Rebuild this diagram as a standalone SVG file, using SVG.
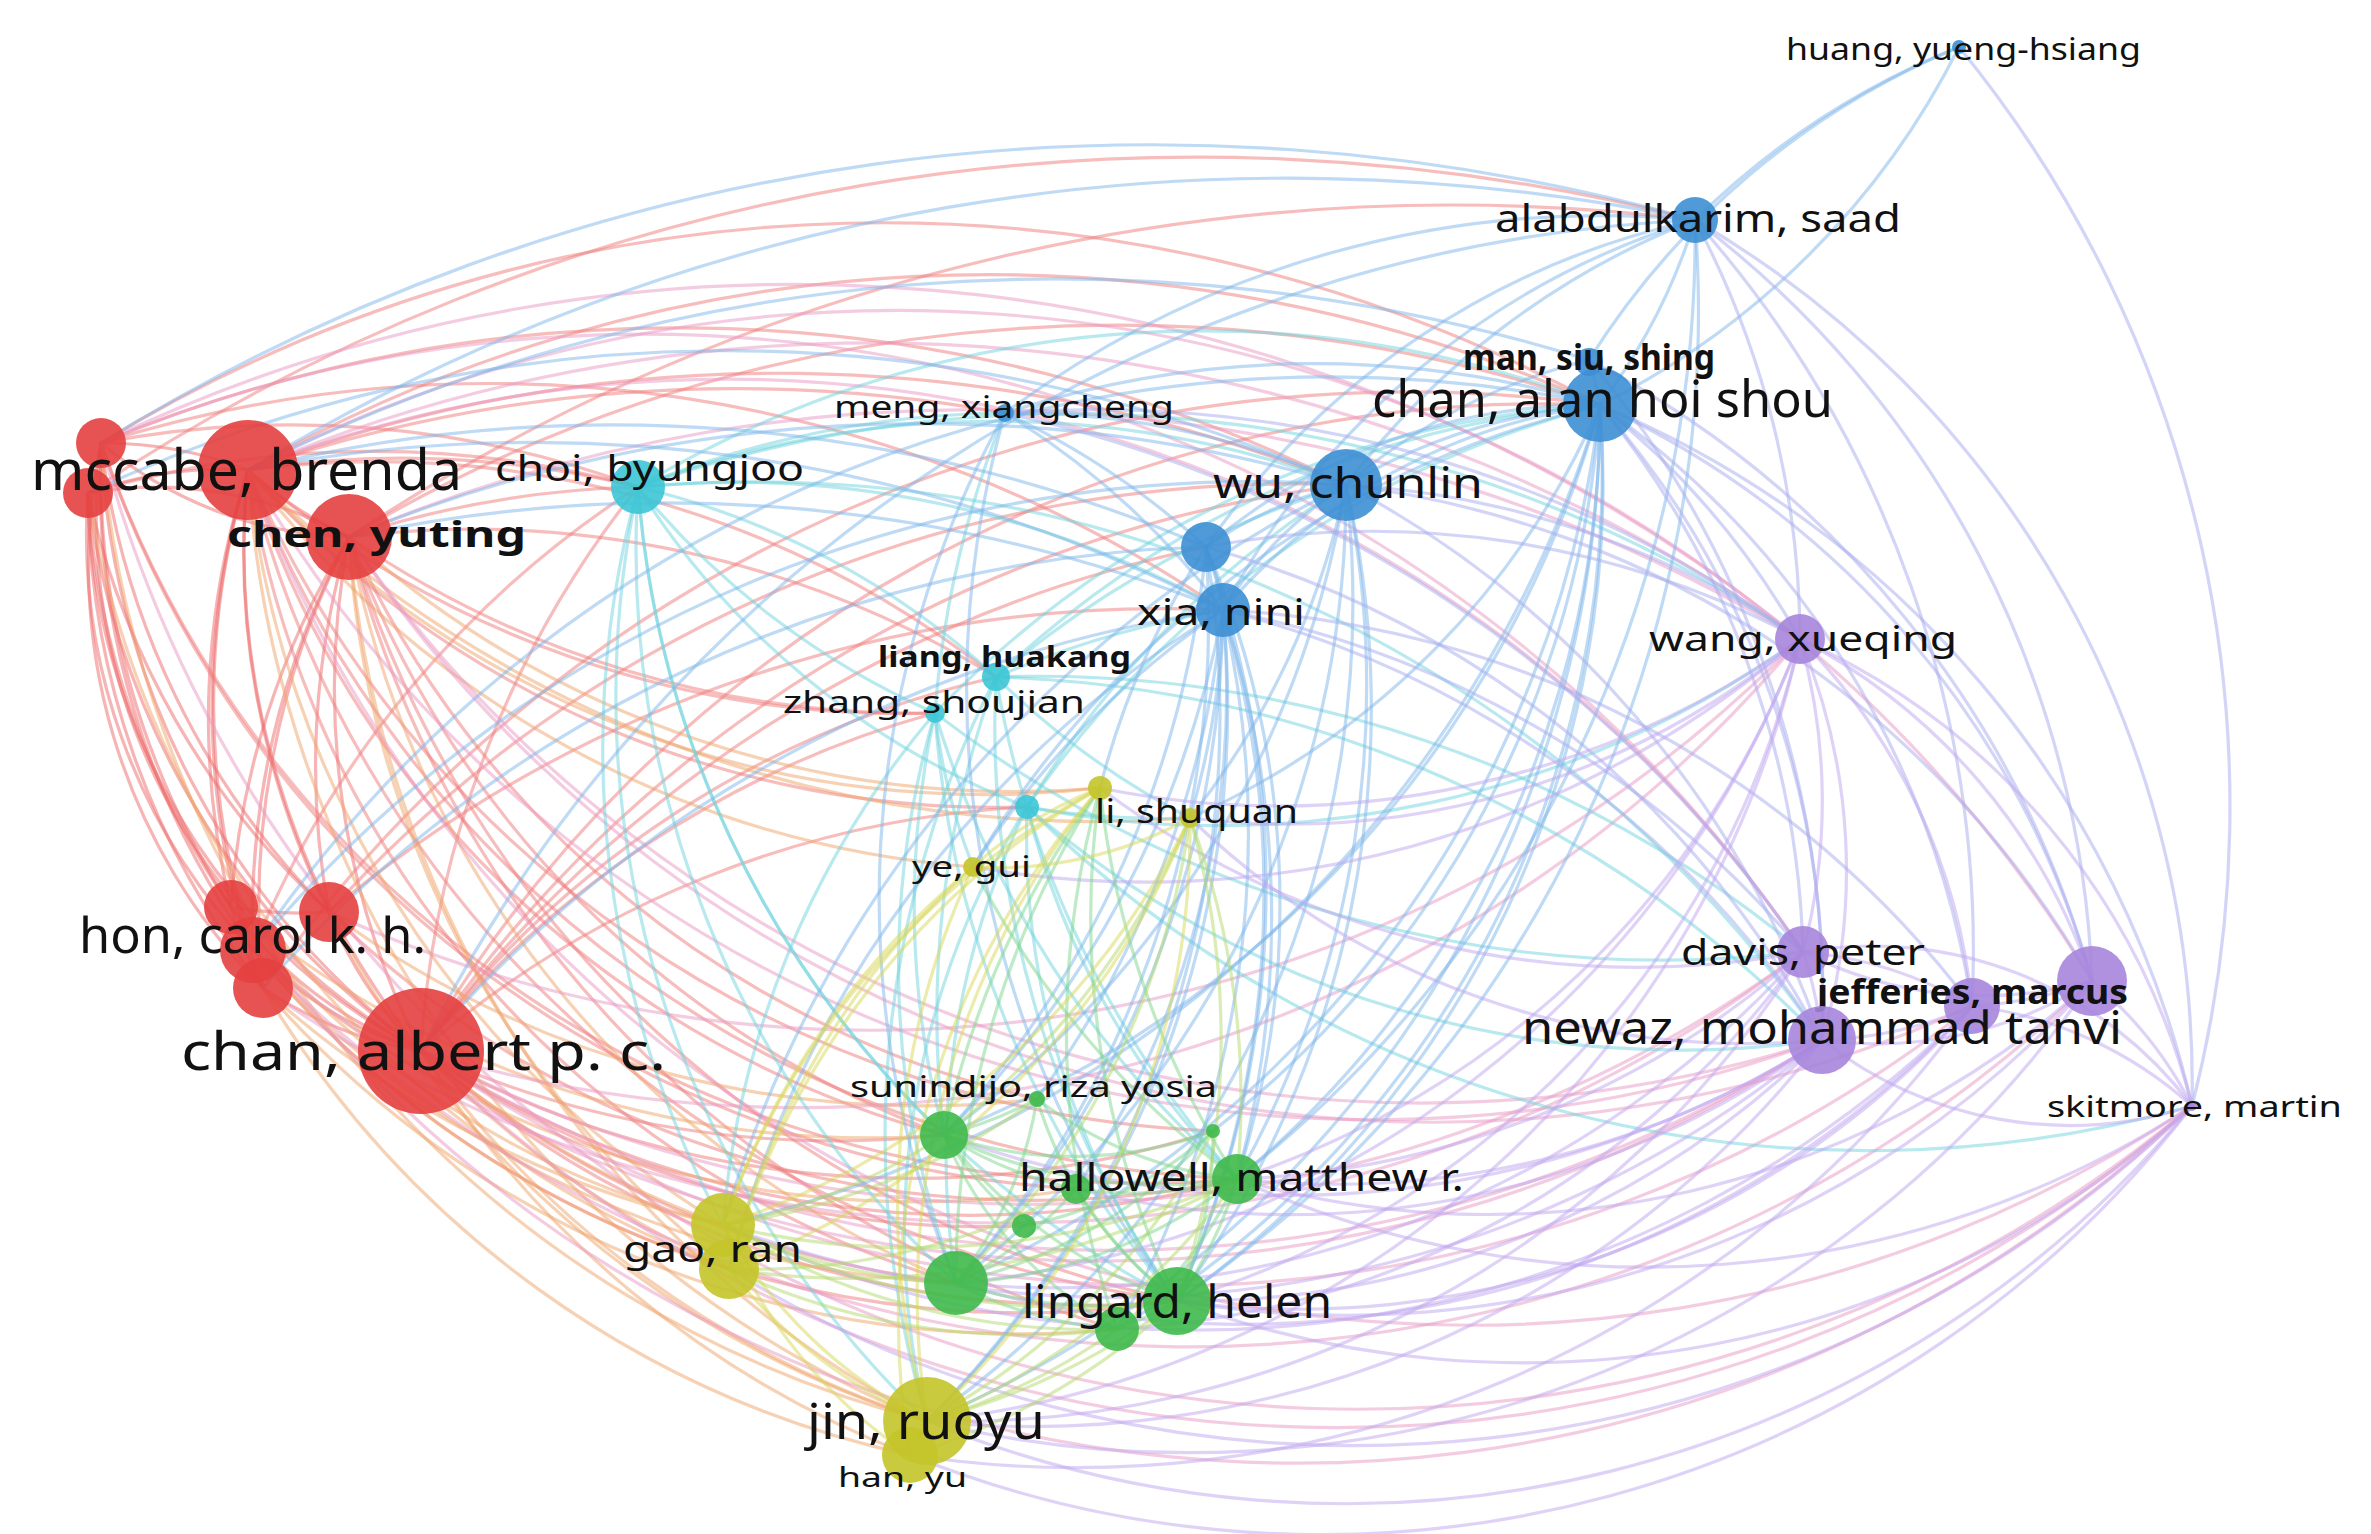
<svg xmlns="http://www.w3.org/2000/svg" width="2371" height="1534" viewBox="0 0 2371 1534">
<style>
.e path{fill:none;stroke-width:3.2;stroke-opacity:0.5;stroke-linecap:round}
.er{stroke:#f07b7b}
.ers{stroke:#ee6a6a;stroke-width:4.5!important;stroke-opacity:0.6!important}
.eo{stroke:#f0a36a}
.eb{stroke:#7db6ea}
.ebp{stroke:#a7acee}
.ec{stroke:#6fd3de}
.ep{stroke:#c0a5f0}
.em{stroke:#e99ac4}
.eg{stroke:#7dd58e}
.ey{stroke:#d8d858}
.egy{stroke:#b3d96c}
circle{fill-opacity:0.9}
.nr{fill:#e4403f}
.nc{fill:#3cc5d5}
.nb{fill:#3d8fd4}
.np{fill:#a685dc}
.ny{fill:#c4c42a}
.ng{fill:#3fb94b}
text{font-family:"Noto Sans","Liberation Sans",sans-serif;fill:#111}
.bd{font-weight:bold}
</style>
<rect width="2371" height="1534" fill="#ffffff"/>
<g id="connectors" class="e">
<g class="ers">
<path d="M231 907A800 800 0 0 1 101 443"/><path d="M231 907A800 800 0 0 1 88 493"/><path d="M231 907A800 800 0 0 1 248 470"/><path d="M231 907A800 800 0 0 1 349 537"/>
<path d="M329 912A800 800 0 0 1 101 443"/><path d="M329 912A800 800 0 0 1 88 493"/><path d="M329 912A800 800 0 0 1 248 470"/><path d="M329 912A800 800 0 0 1 349 537"/>
<path d="M253 950A800 800 0 0 1 101 443"/><path d="M253 950A800 800 0 0 1 248 470"/><path d="M253 950A800 800 0 0 1 349 537"/>
<path d="M263 988A800 800 0 0 1 88 493"/><path d="M263 988A800 800 0 0 1 248 470"/><path d="M263 988A800 800 0 0 1 349 537"/>
<path d="M421 1051A800 800 0 0 1 101 443"/><path d="M421 1051A800 800 0 0 1 88 493"/><path d="M421 1051A800 800 0 0 1 248 470"/><path d="M421 1051A800 800 0 0 1 349 537"/>
<path d="M421 1051A600 600 0 0 1 101 443"/><path d="M263 988A600 600 0 0 1 101 443"/><path d="M421 1051A650 650 0 0 1 88 493"/><path d="M253 950A600 600 0 0 1 88 493"/>
<path d="M88 493A400 400 0 0 1 349 537"/><path d="M88 493A400 400 0 0 1 248 470"/><path d="M349 537A400 400 0 0 1 101 443"/><path d="M349 537A400 400 0 0 1 248 470"/><path d="M101 443A400 400 0 0 1 248 470"/>
<path d="M421 1051A400 400 0 0 1 263 988"/><path d="M421 1051A400 400 0 0 1 253 950"/><path d="M421 1051A400 400 0 0 1 329 912"/><path d="M421 1051A400 400 0 0 1 231 907"/><path d="M263 988A400 400 0 0 1 231 907"/><path d="M329 912A400 400 0 0 1 231 907"/>
</g>
<g class="er">
<path d="M248 470A1000 1000 0 0 1 638 487"/><path d="M349 537A1000 1000 0 0 1 638 487"/><path d="M101 443A1000 1000 0 0 1 638 487"/><path d="M421 1051A1000 1000 0 0 1 638 487"/><path d="M253 950A1000 1000 0 0 1 638 487"/><path d="M88 493A1000 1000 0 0 1 638 487"/>
<path d="M248 470A1000 1000 0 0 1 996 677"/><path d="M349 537A1000 1000 0 0 1 996 677"/><path d="M935 713A1000 1000 0 0 1 248 470"/><path d="M935 713A1000 1000 0 0 1 349 537"/><path d="M421 1051A1000 1000 0 0 1 935 713"/><path d="M421 1051A1000 1000 0 0 1 1027 807"/><path d="M1027 807A1000 1000 0 0 1 248 470"/><path d="M421 1051A1000 1000 0 0 1 996 677"/>
<path d="M248 470A1500 1500 0 0 1 1005 413"/><path d="M248 470A1500 1500 0 0 1 1346 485"/><path d="M248 470A1500 1500 0 0 1 1600 405"/><path d="M349 537A1500 1500 0 0 1 1600 405"/><path d="M101 443A1500 1500 0 0 1 1600 405"/><path d="M101 443A1500 1500 0 0 1 1346 485"/><path d="M88 493A2000 2000 0 0 1 1695 220"/><path d="M349 537A2000 2000 0 0 1 1695 220"/><path d="M101 443A1300 1300 0 0 1 1223 610"/>
<path d="M421 1051A1300 1300 0 0 1 1600 405"/><path d="M421 1051A1300 1300 0 0 1 1346 485"/><path d="M329 912A1300 1300 0 0 1 1346 485"/><path d="M421 1051A1300 1300 0 0 1 1206 547"/><path d="M329 912A1300 1300 0 0 1 1223 610"/><path d="M263 988A1400 1400 0 0 1 1600 405"/>
<path d="M956 1283A1000 1000 0 0 1 421 1051"/><path d="M1177 1301A1000 1000 0 0 1 421 1051"/><path d="M944 1135A1000 1000 0 0 1 421 1051"/><path d="M1237 1179A1000 1000 0 0 1 421 1051"/><path d="M1024 1226A1000 1000 0 0 1 421 1051"/><path d="M1213 1131A1000 1000 0 0 1 421 1051"/><path d="M1177 1301A1000 1000 0 0 1 253 950"/><path d="M1237 1179A1000 1000 0 0 1 329 912"/>
<path d="M956 1283A1000 1000 0 0 1 248 470"/><path d="M944 1135A1000 1000 0 0 1 349 537"/><path d="M1177 1301A1100 1100 0 0 1 248 470"/><path d="M1237 1179A1100 1100 0 0 1 101 443"/><path d="M1237 1179A1100 1100 0 0 1 248 470"/><path d="M944 1135A1000 1000 0 0 1 248 470"/><path d="M1117 1329A1100 1100 0 0 1 349 537"/><path d="M1076 1189A1100 1100 0 0 1 101 443"/><path d="M1037 1099A1000 1000 0 0 1 349 537"/><path d="M1177 1301A1100 1100 0 0 1 349 537"/><path d="M1213 1131A1100 1100 0 0 1 248 470"/>
</g>
<g class="eo">
<path d="M1117 1329A1000 1000 0 0 1 263 988"/><path d="M1076 1189A1000 1000 0 0 1 253 950"/><path d="M1037 1099A1000 1000 0 0 1 329 912"/><path d="M956 1283A1000 1000 0 0 1 253 950"/><path d="M944 1135A1000 1000 0 0 1 231 907"/><path d="M956 1283A1000 1000 0 0 1 349 537"/>
<path d="M927 1421A1000 1000 0 0 1 421 1051"/><path d="M723 1225A1000 1000 0 0 1 421 1051"/><path d="M729 1269A1000 1000 0 0 1 421 1051"/><path d="M723 1225A1000 1000 0 0 1 263 988"/><path d="M729 1269A1000 1000 0 0 1 253 950"/><path d="M927 1421A1000 1000 0 0 1 329 912"/><path d="M910 1455A1000 1000 0 0 1 421 1051"/><path d="M910 1455A1000 1000 0 0 1 263 988"/><path d="M723 1225A900 900 0 0 1 231 907"/>
<path d="M723 1225A1000 1000 0 0 1 248 470"/><path d="M927 1421A1100 1100 0 0 1 349 537"/><path d="M973 867A1000 1000 0 0 1 248 470"/><path d="M1100 788A1000 1000 0 0 1 349 537"/><path d="M927 1421A1100 1100 0 0 1 101 443"/><path d="M729 1269A1000 1000 0 0 1 88 493"/><path d="M1190 818A1200 1200 0 0 1 248 470"/><path d="M1100 788A1000 1000 0 0 1 248 470"/><path d="M729 1269A1000 1000 0 0 1 349 537"/><path d="M927 1421A1100 1100 0 0 1 248 470"/>
</g>
<g class="em">
<path d="M248 470A1600 1600 0 0 1 1800 639"/><path d="M349 537A1600 1600 0 0 1 1800 639"/><path d="M101 443A1600 1600 0 0 1 1800 639"/><path d="M1822 1040A1300 1300 0 0 1 248 470"/><path d="M248 470A1300 1300 0 0 1 1803 952"/><path d="M1972 1006A1300 1300 0 0 1 349 537"/><path d="M2192 1106A1300 1300 0 0 1 101 443"/><path d="M2192 1106A1300 1300 0 0 1 248 470"/><path d="M248 470A1400 1400 0 0 1 2092 981"/><path d="M101 443A1400 1400 0 0 1 1803 952"/><path d="M1822 1040A1300 1300 0 0 1 349 537"/>
<path d="M1822 1040A1300 1300 0 0 1 421 1051"/><path d="M1803 952A1300 1300 0 0 1 421 1051"/><path d="M2192 1106A1300 1300 0 0 1 421 1051"/><path d="M1972 1006A1300 1300 0 0 1 421 1051"/><path d="M2092 981A1300 1300 0 0 1 253 950"/><path d="M1822 1040A1300 1300 0 0 1 253 950"/><path d="M2192 1106A1300 1300 0 0 1 231 907"/><path d="M1803 952A1300 1300 0 0 1 263 988"/><path d="M1800 639A1300 1300 0 0 1 421 1051"/><path d="M1800 639A1300 1300 0 0 1 329 912"/>
</g>
<g class="ec">
<path d="M638 487A1000 1000 0 0 1 1005 413"/><path d="M638 487A1000 1000 0 0 1 1346 485"/><path d="M638 487A1100 1100 0 0 1 1600 405"/><path d="M638 487A1000 1000 0 0 1 1223 610"/><path d="M638 487A800 800 0 0 1 996 677"/><path d="M935 713A800 800 0 0 1 638 487"/><path d="M1027 807A800 800 0 0 1 638 487"/><path d="M927 1421A1000 1000 0 0 1 638 487"/><path d="M956 1283A1000 1000 0 0 1 638 487"/><path d="M1177 1301A1000 1000 0 0 1 638 487"/><path d="M944 1135A1000 1000 0 0 1 638 487"/><path d="M723 1225A1000 1000 0 0 1 638 487"/>
<path d="M996 677A1000 1000 0 0 1 1600 405"/><path d="M996 677A1000 1000 0 0 1 1346 485"/><path d="M996 677A1000 1000 0 0 1 1223 610"/><path d="M1177 1301A1000 1000 0 0 1 996 677"/><path d="M927 1421A1000 1000 0 0 1 996 677"/><path d="M996 677A1200 1200 0 0 1 1822 1040"/><path d="M944 1135A1000 1000 0 0 1 996 677"/><path d="M1237 1179A1000 1000 0 0 1 996 677"/><path d="M1190 818A800 800 0 0 1 996 677"/>
<path d="M935 713A1000 1000 0 0 1 1600 405"/><path d="M935 713A1000 1000 0 0 1 1005 413"/><path d="M1237 1179A1000 1000 0 0 1 935 713"/><path d="M1177 1301A1000 1000 0 0 1 935 713"/><path d="M944 1135A900 900 0 0 1 935 713"/><path d="M956 1283A900 900 0 0 1 935 713"/><path d="M723 1225A900 900 0 0 1 935 713"/><path d="M973 867A600 600 0 0 1 935 713"/>
<path d="M1027 807A1000 1000 0 0 1 1600 405"/><path d="M1027 807A1000 1000 0 0 1 1346 485"/><path d="M956 1283A800 800 0 0 1 1027 807"/><path d="M1177 1301A800 800 0 0 1 1027 807"/><path d="M927 1421A800 800 0 0 1 1027 807"/><path d="M1822 1040A1000 1000 0 0 1 1027 807"/><path d="M1190 818A800 800 0 0 1 1027 807"/><path d="M1237 1179A800 800 0 0 1 1027 807"/><path d="M1800 639A1000 1000 0 0 1 1027 807"/><path d="M2192 1106A1200 1200 0 0 1 1027 807"/>
<path d="M996 677A1200 1200 0 0 1 1803 952"/><path d="M638 487A1300 1300 0 0 1 1822 1040"/><path d="M638 487A1300 1300 0 0 1 1800 639"/><path d="M1803 952A1200 1200 0 0 1 935 713"/>
</g>
<g class="eb">
<path d="M248 470A1500 1500 0 0 1 1206 547"/><path d="M248 470A1500 1500 0 0 1 1223 610"/><path d="M248 470A2000 2000 0 0 1 1695 220"/><path d="M349 537A1500 1500 0 0 1 1346 485"/><path d="M349 537A1500 1500 0 0 1 1223 610"/><path d="M101 443A2000 2000 0 0 1 1695 220"/><path d="M248 470A1800 1800 0 0 1 1589 360"/><path d="M88 493A1500 1500 0 0 1 1346 485"/>
<path d="M421 1051A1300 1300 0 0 1 1223 610"/><path d="M253 950A1300 1300 0 0 1 1600 405"/><path d="M263 988A1300 1300 0 0 1 1206 547"/><path d="M421 1051A1500 1500 0 0 1 1695 220"/><path d="M253 950A1300 1300 0 0 1 1346 485"/>
<path d="M1695 220A600 600 0 0 1 1600 405"/><path d="M1959 47A800 800 0 0 1 1600 405"/><path d="M1695 220A800 800 0 0 1 1959 47"/><path d="M1589 360A800 800 0 0 1 1959 47"/>
<path d="M1346 485A600 600 0 0 1 1600 405"/><path d="M1206 547A600 600 0 0 1 1600 405"/><path d="M1223 610A600 600 0 0 1 1600 405"/><path d="M1005 413A1000 1000 0 0 1 1600 405"/><path d="M1005 413A800 800 0 0 1 1346 485"/><path d="M1206 547A400 400 0 0 1 1346 485"/><path d="M1223 610A400 400 0 0 1 1346 485"/><path d="M1206 547A400 400 0 0 1 1223 610"/>
<path d="M1005 413A1000 1000 0 0 1 1695 220"/><path d="M1346 485A800 800 0 0 1 1695 220"/><path d="M1223 610A800 800 0 0 1 1695 220"/><path d="M1206 547A800 800 0 0 1 1695 220"/><path d="M1589 360A400 400 0 0 1 1600 405"/><path d="M1346 485A600 600 0 0 1 1589 360"/><path d="M1005 413A800 800 0 0 1 1206 547"/><path d="M1005 413A800 800 0 0 1 1223 610"/>
<path d="M1600 405A1000 1000 0 0 1 1237 1179"/><path d="M1600 405A1000 1000 0 0 1 1177 1301"/><path d="M1600 405A1100 1100 0 0 1 956 1283"/><path d="M1600 405A1100 1100 0 0 1 944 1135"/><path d="M1223 610A1000 1000 0 0 1 1237 1179"/><path d="M1223 610A1000 1000 0 0 1 1177 1301"/><path d="M1223 610A1000 1000 0 0 1 956 1283"/><path d="M1206 547A1000 1000 0 0 1 1177 1301"/><path d="M1346 485A1000 1000 0 0 1 1237 1179"/><path d="M1346 485A1000 1000 0 0 1 956 1283"/><path d="M1223 610A1000 1000 0 0 1 1037 1099"/><path d="M1206 547A1000 1000 0 0 1 944 1135"/><path d="M1177 1301A1000 1000 0 0 1 1005 413"/><path d="M956 1283A1000 1000 0 0 1 1005 413"/><path d="M1695 220A1200 1200 0 0 1 1177 1301"/>
<path d="M1346 485A1000 1000 0 0 1 1177 1301"/><path d="M1600 405A1000 1000 0 0 1 1117 1329"/><path d="M1223 610A1000 1000 0 0 1 1117 1329"/><path d="M1206 547A1000 1000 0 0 1 956 1283"/><path d="M1223 610A1000 1000 0 0 1 944 1135"/><path d="M1346 485A1000 1000 0 0 1 944 1135"/><path d="M1695 220A1200 1200 0 0 1 1237 1179"/><path d="M1600 405A1000 1000 0 0 1 1213 1131"/><path d="M1223 610A900 900 0 0 1 1076 1189"/><path d="M1206 547A900 900 0 0 1 1237 1179"/>
<path d="M1600 405A1100 1100 0 0 1 927 1421"/><path d="M1223 610A1000 1000 0 0 1 927 1421"/><path d="M723 1225A1200 1200 0 0 1 1346 485"/><path d="M1223 610A800 800 0 0 1 1190 818"/><path d="M1600 405A800 800 0 0 1 1190 818"/><path d="M973 867A1000 1000 0 0 1 1600 405"/><path d="M1100 788A800 800 0 0 1 1206 547"/>
<path d="M1346 485A1000 1000 0 0 1 927 1421"/><path d="M1206 547A1000 1000 0 0 1 927 1421"/><path d="M1600 405A1200 1200 0 0 1 723 1225"/><path d="M729 1269A1100 1100 0 0 1 1223 610"/><path d="M973 867A900 900 0 0 1 1223 610"/><path d="M1346 485A800 800 0 0 1 1190 818"/>
</g>
<g class="ebp">
<path d="M1600 405A800 800 0 0 1 1800 639"/><path d="M1600 405A900 900 0 0 1 1803 952"/><path d="M1600 405A900 900 0 0 1 1822 1040"/><path d="M1600 405A900 900 0 0 1 1972 1006"/><path d="M1600 405A900 900 0 0 1 2092 981"/><path d="M1600 405A1000 1000 0 0 1 2192 1106"/><path d="M1695 220A1000 1000 0 0 1 2192 1106"/><path d="M1695 220A1000 1000 0 0 1 2092 981"/><path d="M1959 47A1200 1200 0 0 1 2192 1106"/><path d="M1695 220A900 900 0 0 1 1800 639"/><path d="M1346 485A900 900 0 0 1 1800 639"/><path d="M1346 485A1000 1000 0 0 1 1822 1040"/><path d="M1223 610A1000 1000 0 0 1 1822 1040"/><path d="M1223 610A1000 1000 0 0 1 1803 952"/><path d="M1206 547A1000 1000 0 0 1 1822 1040"/><path d="M1005 413A1300 1300 0 0 1 1803 952"/><path d="M1589 360A1000 1000 0 0 1 2092 981"/><path d="M1695 220A1100 1100 0 0 1 1972 1006"/>
<path d="M1223 610A1000 1000 0 0 1 1972 1006"/><path d="M1346 485A1000 1000 0 0 1 2092 981"/><path d="M1206 547A900 900 0 0 1 1800 639"/><path d="M1589 360A1000 1000 0 0 1 1822 1040"/><path d="M1005 413A1200 1200 0 0 1 1800 639"/>
</g>
<g class="ep">
<path d="M1800 639A600 600 0 0 1 1803 952"/><path d="M1800 639A600 600 0 0 1 1822 1040"/><path d="M1800 639A600 600 0 0 1 1972 1006"/><path d="M1800 639A600 600 0 0 1 2092 981"/><path d="M1800 639A700 700 0 0 1 2192 1106"/>
<path d="M2092 981A400 400 0 0 1 1803 952"/><path d="M2092 981A400 400 0 0 1 1972 1006"/><path d="M2092 981A400 400 0 0 1 2192 1106"/><path d="M2092 981A400 400 0 0 1 1822 1040"/><path d="M1803 952A400 400 0 0 1 1972 1006"/><path d="M1803 952A400 400 0 0 1 2192 1106"/><path d="M1803 952A400 400 0 0 1 1822 1040"/><path d="M1972 1006A400 400 0 0 1 2192 1106"/><path d="M1972 1006A400 400 0 0 1 1822 1040"/><path d="M2192 1106A400 400 0 0 1 1822 1040"/>
<path d="M1803 952A900 900 0 0 1 1237 1179"/><path d="M1822 1040A900 900 0 0 1 1177 1301"/><path d="M1822 1040A900 900 0 0 1 1237 1179"/><path d="M1800 639A900 900 0 0 1 1177 1301"/><path d="M1972 1006A1000 1000 0 0 1 956 1283"/><path d="M2092 981A1000 1000 0 0 1 1177 1301"/><path d="M2192 1106A1000 1000 0 0 1 1237 1179"/><path d="M1822 1040A1000 1000 0 0 1 944 1135"/><path d="M1803 952A1000 1000 0 0 1 956 1283"/><path d="M1800 639A900 900 0 0 1 1237 1179"/>
<path d="M1972 1006A900 900 0 0 1 1177 1301"/><path d="M2092 981A900 900 0 0 1 1237 1179"/><path d="M1800 639A1000 1000 0 0 1 956 1283"/><path d="M1803 952A900 900 0 0 1 1117 1329"/><path d="M2192 1106A1000 1000 0 0 1 1177 1301"/><path d="M1822 1040A900 900 0 0 1 1076 1189"/>
<path d="M1822 1040A1000 1000 0 0 1 927 1421"/><path d="M2192 1106A1100 1100 0 0 1 927 1421"/><path d="M1803 952A1000 1000 0 0 1 927 1421"/><path d="M1972 1006A1100 1100 0 0 1 910 1455"/><path d="M2092 981A1100 1100 0 0 1 927 1421"/><path d="M1800 639A1000 1000 0 0 1 927 1421"/><path d="M1822 1040A1100 1100 0 0 1 723 1225"/><path d="M2192 1106A1200 1200 0 0 1 729 1269"/><path d="M1822 1040A800 800 0 0 1 1190 818"/><path d="M1800 639A800 800 0 0 1 1190 818"/>
<path d="M2192 1106A1100 1100 0 0 1 910 1455"/><path d="M1972 1006A1100 1100 0 0 1 723 1225"/><path d="M1800 639A1000 1000 0 0 1 973 867"/><path d="M1803 952A900 900 0 0 1 1100 788"/><path d="M1800 639A900 900 0 0 1 1100 788"/>
</g>
<g class="eg">
<path d="M1237 1179A400 400 0 0 1 1177 1301"/><path d="M1213 1131A400 400 0 0 1 1177 1301"/><path d="M1237 1179A400 400 0 0 1 1117 1329"/><path d="M1237 1179A500 500 0 0 1 956 1283"/><path d="M1237 1179A500 500 0 0 1 944 1135"/><path d="M1177 1301A500 500 0 0 1 956 1283"/><path d="M1177 1301A500 500 0 0 1 944 1135"/><path d="M1177 1301A400 400 0 0 1 1117 1329"/><path d="M1177 1301A400 400 0 0 1 1076 1189"/><path d="M1117 1329A400 400 0 0 1 956 1283"/><path d="M1076 1189A400 400 0 0 1 956 1283"/><path d="M1024 1226A400 400 0 0 1 944 1135"/><path d="M1037 1099A400 400 0 0 1 944 1135"/><path d="M1237 1179A400 400 0 0 1 1076 1189"/><path d="M1213 1131A500 500 0 0 1 956 1283"/><path d="M1037 1099A400 400 0 0 1 956 1283"/><path d="M1237 1179A400 400 0 0 1 1037 1099"/><path d="M1177 1301A400 400 0 0 1 1037 1099"/><path d="M1117 1329A400 400 0 0 1 944 1135"/><path d="M1076 1189A400 400 0 0 1 944 1135"/><path d="M1213 1131A400 400 0 0 1 1024 1226"/><path d="M1213 1131A400 400 0 0 1 944 1135"/>
<path d="M1177 1301A900 900 0 0 1 1100 788"/><path d="M1237 1179A900 900 0 0 1 973 867"/><path d="M956 1283A900 900 0 0 1 1100 788"/><path d="M1117 1329A900 900 0 0 1 1100 788"/><path d="M1237 1179A900 900 0 0 1 1100 788"/><path d="M944 1135A900 900 0 0 1 1100 788"/>
</g>
<g class="egy">
<path d="M1237 1179A700 700 0 0 1 927 1421"/><path d="M1177 1301A700 700 0 0 1 927 1421"/><path d="M1177 1301A800 800 0 0 1 723 1225"/><path d="M956 1283A600 600 0 0 1 723 1225"/><path d="M944 1135A600 600 0 0 1 723 1225"/><path d="M1237 1179A800 800 0 0 1 729 1269"/><path d="M1117 1329A700 700 0 0 1 723 1225"/><path d="M1190 818A800 800 0 0 1 1177 1301"/><path d="M1190 818A800 800 0 0 1 956 1283"/><path d="M1190 818A800 800 0 0 1 944 1135"/><path d="M1213 1131A700 700 0 0 1 927 1421"/><path d="M1177 1301A700 700 0 0 1 910 1455"/><path d="M1237 1179A800 800 0 0 1 723 1225"/><path d="M1117 1329A700 700 0 0 1 729 1269"/>
<path d="M1076 1189A700 700 0 0 1 729 1269"/><path d="M1037 1099A700 700 0 0 1 723 1225"/><path d="M1117 1329A600 600 0 0 1 927 1421"/><path d="M1190 818A800 800 0 0 1 1237 1179"/>
</g>
<g class="ey">
<path d="M927 1421A500 500 0 0 1 723 1225"/><path d="M927 1421A500 500 0 0 1 729 1269"/><path d="M927 1421A800 800 0 0 1 1100 788"/><path d="M927 1421A800 800 0 0 1 973 867"/><path d="M910 1455A500 500 0 0 1 723 1225"/><path d="M1190 818A800 800 0 0 1 927 1421"/><path d="M1190 818A400 400 0 0 1 973 867"/><path d="M1190 818A800 800 0 0 1 723 1225"/><path d="M973 867A400 400 0 0 1 1100 788"/><path d="M723 1225A800 800 0 0 1 1100 788"/><path d="M729 1269A800 800 0 0 1 973 867"/><path d="M927 1421A300 300 0 0 1 910 1455"/>
<path d="M1190 818A800 800 0 0 1 729 1269"/><path d="M729 1269A800 800 0 0 1 1100 788"/><path d="M723 1225A800 800 0 0 1 973 867"/><path d="M910 1455A800 800 0 0 1 1100 788"/>
</g>
</g>
<g id="nodes">
<g id="n-r1"><circle class="nr" cx="101" cy="443" r="25"/></g>
<g id="n-r2"><circle class="nr" cx="88" cy="493" r="25"/></g>
<g id="n-r5"><circle class="nr" cx="231" cy="907" r="27"/></g>
<g id="n-r6"><circle class="nr" cx="329" cy="912" r="30"/></g>
<g id="n-r8"><circle class="nr" cx="263" cy="988" r="30"/></g>
<g id="n-b3"><circle class="nb" cx="1206" cy="547" r="25"/></g>
<g id="n-c4"><circle class="nc" cx="1027" cy="807" r="12"/></g>
<g id="n-y2"><circle class="ny" cx="1100" cy="788" r="12"/></g>
<g id="n-y5"><circle class="ny" cx="729" cy="1269" r="30"/></g>
<g id="n-g2"><circle class="ng" cx="944" cy="1135" r="24"/></g>
<g id="n-g3"><circle class="ng" cx="1213" cy="1131" r="7"/></g>
<g id="n-g5"><circle class="ng" cx="1076" cy="1189" r="15"/></g>
<g id="n-g6"><circle class="ng" cx="1024" cy="1226" r="12"/></g>
<g id="n-g7"><circle class="ng" cx="956" cy="1283" r="32"/></g>
<g id="n-g9"><circle class="ng" cx="1117" cy="1329" r="22"/></g>
<g id="n-p5"><circle class="np" cx="2092" cy="981" r="35"/></g>
<g id="n-mccabe"><circle class="nr" cx="248" cy="470" r="50"/><text x="31" y="490" font-size="57" textLength="431" lengthAdjust="spacingAndGlyphs">mccabe, brenda</text></g>
<g id="n-chen"><circle class="nr" cx="349" cy="537" r="43"/><text class="bd" x="227" y="547" font-size="36" textLength="299" lengthAdjust="spacingAndGlyphs">chen, yuting</text></g>
<g id="n-hon"><circle class="nr" cx="253" cy="950" r="33"/><text x="79" y="953" font-size="50" textLength="347" lengthAdjust="spacingAndGlyphs">hon, carol k. h.</text></g>
<g id="n-chanalbert"><circle class="nr" cx="421" cy="1051" r="63"/><text x="181" y="1070" font-size="53" textLength="485" lengthAdjust="spacingAndGlyphs">chan, albert p. c.</text></g>
<g id="n-choi"><circle class="nc" cx="638" cy="487" r="27"/><text x="495" y="481" font-size="37" textLength="309" lengthAdjust="spacingAndGlyphs">choi, byungjoo</text></g>
<g id="n-liang"><circle class="nc" cx="996" cy="677" r="14"/><text class="bd" x="878" y="667" font-size="28" textLength="253" lengthAdjust="spacingAndGlyphs">liang, huakang</text></g>
<g id="n-zhang"><circle class="nc" cx="935" cy="713" r="10"/><text x="783" y="713" font-size="31" textLength="302" lengthAdjust="spacingAndGlyphs">zhang, shoujian</text></g>
<g id="n-meng"><circle class="nb" cx="1005" cy="413" r="9"/><text x="834" y="418" font-size="31" textLength="340" lengthAdjust="spacingAndGlyphs">meng, xiangcheng</text></g>
<g id="n-wu"><circle class="nb" cx="1346" cy="485" r="36"/><text x="1213" y="498" font-size="42" textLength="270" lengthAdjust="spacingAndGlyphs">wu, chunlin</text></g>
<g id="n-xia"><circle class="nb" cx="1223" cy="610" r="27"/><text x="1137" y="625" font-size="37" textLength="168" lengthAdjust="spacingAndGlyphs">xia, nini</text></g>
<g id="n-chanalan"><circle class="nb" cx="1600" cy="405" r="37"/><text x="1372" y="417" font-size="51" textLength="461" lengthAdjust="spacingAndGlyphs">chan, alan hoi shou</text></g>
<g id="n-man"><circle class="nb" cx="1589" cy="362" r="14"/><text class="bd" x="1463" y="370" font-size="35" textLength="252" lengthAdjust="spacingAndGlyphs">man, siu, shing</text></g>
<g id="n-alabdulkarim"><circle class="nb" cx="1695" cy="220" r="23"/><text x="1495" y="232" font-size="39" textLength="406" lengthAdjust="spacingAndGlyphs">alabdulkarim, saad</text></g>
<g id="n-huang"><circle class="nb" cx="1959" cy="47" r="7"/><text x="1786" y="60" font-size="30" textLength="355" lengthAdjust="spacingAndGlyphs">huang, yueng-hsiang</text></g>
<g id="n-wang"><circle class="np" cx="1800" cy="639" r="25"/><text x="1649" y="651" font-size="35" textLength="308" lengthAdjust="spacingAndGlyphs">wang, xueqing</text></g>
<g id="n-davis"><circle class="np" cx="1803" cy="952" r="26"/><text x="1681" y="965" font-size="37" textLength="244" lengthAdjust="spacingAndGlyphs">davis, peter</text></g>
<g id="n-jefferies"><circle class="np" cx="1972" cy="1006" r="28"/><text class="bd" x="1817" y="1004" font-size="34" textLength="311" lengthAdjust="spacingAndGlyphs">jefferies, marcus</text></g>
<g id="n-newaz"><circle class="np" cx="1822" cy="1040" r="34"/><text x="1522" y="1044" font-size="45" textLength="600" lengthAdjust="spacingAndGlyphs">newaz, mohammad tanvi</text></g>
<g id="n-skitmore"><circle class="np" cx="2192" cy="1106" r="5"/><text x="2047" y="1117" font-size="29" textLength="295" lengthAdjust="spacingAndGlyphs">skitmore, martin</text></g>
<g id="n-li"><circle class="ny" cx="1190" cy="818" r="10"/><text x="1095" y="823" font-size="33" textLength="203" lengthAdjust="spacingAndGlyphs">li, shuquan</text></g>
<g id="n-ye"><circle class="ny" cx="973" cy="867" r="10"/><text x="912" y="877" font-size="29" textLength="119" lengthAdjust="spacingAndGlyphs">ye, gui</text></g>
<g id="n-gao"><circle class="ny" cx="723" cy="1225" r="32"/><text x="623" y="1262" font-size="36" textLength="179" lengthAdjust="spacingAndGlyphs">gao, ran</text></g>
<g id="n-han"><circle class="ny" cx="910" cy="1455" r="28"/><text x="838" y="1487" font-size="27" textLength="129" lengthAdjust="spacingAndGlyphs">han, yu</text></g>
<g id="n-jin"><circle class="ny" cx="927" cy="1421" r="44"/><text x="807" y="1439" font-size="49" textLength="238" lengthAdjust="spacingAndGlyphs">jin, ruoyu</text></g>
<g id="n-sunindijo"><circle class="ng" cx="1037" cy="1099" r="8"/><text x="850" y="1097" font-size="29" textLength="367" lengthAdjust="spacingAndGlyphs">sunindijo, riza yosia</text></g>
<g id="n-hallowell"><circle class="ng" cx="1237" cy="1179" r="25"/><text x="1019" y="1191" font-size="38" textLength="445" lengthAdjust="spacingAndGlyphs">hallowell, matthew r.</text></g>
<g id="n-lingard"><circle class="ng" cx="1177" cy="1301" r="34"/><text x="1022" y="1318" font-size="46" textLength="310" lengthAdjust="spacingAndGlyphs">lingard, helen</text></g>
</g>
</svg>
